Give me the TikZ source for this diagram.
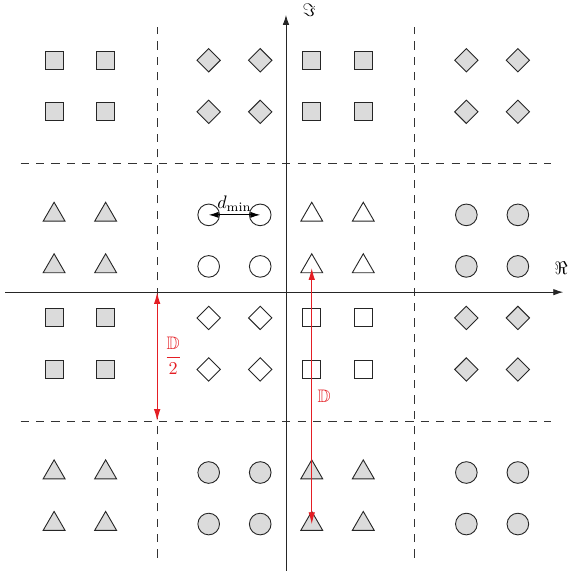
\documentclass[tikz,border=0pt]{standalone}
\usepackage{amsmath,amssymb}
\usepackage{xcolor}
\usepackage{tikz}
\usetikzlibrary{arrows.meta,shapes.geometric}

\definecolor{dimred}{RGB}{228,30,36}

\begin{document}
\begin{tikzpicture}[
    sq/.style={
        rectangle,
        draw=black!85,
        fill=white,
        line width=0.5pt,
        inner sep=0pt,
        minimum size=0.35cm
    },
    sqfill/.style={sq, fill=gray!28},
    dm/.style={
        diamond,
        draw=black!85,
        fill=white,
        line width=0.5pt,
        inner sep=0pt,
        minimum size=0.46cm
    },
    dmfill/.style={dm, fill=gray!28},
    circ/.style={
        circle,
        draw=black!85,
        fill=white,
        line width=0.5pt,
        inner sep=0pt,
        minimum size=0.42cm
    },
    circfill/.style={circ, fill=gray!28},
    tri/.style={
        regular polygon,
        regular polygon sides=3,
        draw=black!85,
        fill=white,
        line width=0.5pt,
        inner sep=0pt,
        minimum size=0.49cm
    },
    trifill/.style={tri, fill=gray!28},
    axis/.style={-{Latex[length=5.5pt,width=3.6pt]}, line width=0.5pt, black!85},
    border/.style={dashed, dash pattern=on 4.5pt off 4pt, line width=0.5pt, black!80},
    dim/.style={{Latex[length=5.5pt,width=3.4pt]}-{Latex[length=5.5pt,width=3.4pt]}, line width=0.5pt},
    reddim/.style={{Latex[length=6.5pt,width=3.6pt]}-{Latex[length=6.5pt,width=3.6pt]}, line width=0.6pt, dimred}
]
\useasboundingbox (-5.55,-5.40) rectangle (5.57,5.67);

% decision borders
\draw[border] (-5.15,2.5) -- (5.15,2.5);
\draw[border] (-5.15,-2.5) -- (5.15,-2.5);
\draw[border] (-2.5,-5.15) -- (-2.5,5.15);
\draw[border] (2.5,-5.15) -- (2.5,5.15);

% axes
\node (re) at (5.34,0.47) {$\Re$};
\node (im) at (0.45,5.48) {$\Im$};
\coordinate (xl) at (-5.45,0);
\coordinate (xr) at (5.38,0);
\coordinate (yb) at (0,-5.45);
\coordinate (yt) at (0,5.38);
\draw[axis] (xl) -- (xr);
\draw[axis] (yb) -- (yt);

% constellation points, 2x2 per group
\foreach \px/\py/\st/\g in {-4/4/sqfill/a, -1/4/dmfill/b, 1/4/sqfill/c, 4/4/dmfill/d,
                            -4/1/trifill/e, -1/1/circ/f, 1/1/tri/g, 4/1/circfill/h,
                            -4/-1/sqfill/i, -1/-1/dm/j, 1/-1/sq/k, 4/-1/dmfill/l,
                            -4/-4/trifill/m, -1/-4/circfill/n, 1/-4/trifill/o, 4/-4/circfill/p}
    \foreach \dx [count=\i] in {-0.5,0.5}
        \foreach \dy [count=\j] in {0.5,-0.5}
            \node[\st] (\g\i\j) at (\px+\dx,\py+\dy) {};

% distances
\draw[dim] (f11.center) -- node[above, inner sep=1.5pt] (dmin) {$d_{\min}$} (f21.center);

\coordinate (half0) at (-2.5,0);
\coordinate (half1) at (-2.5,-2.5);
\draw[reddim] (half0) -- (half1);
\node[text=dimred] (halflbl) at (-2.19,-1.24) {$\dfrac{\mathbb{D}}{2}$};

\draw[reddim, line width=0.5pt] ([yshift=-1pt]g12.center) -- (o12.center);
\node[text=dimred] (dlbl) at (0.74,-2.02) {$\mathbb{D}$};

\end{tikzpicture}
\end{document}
